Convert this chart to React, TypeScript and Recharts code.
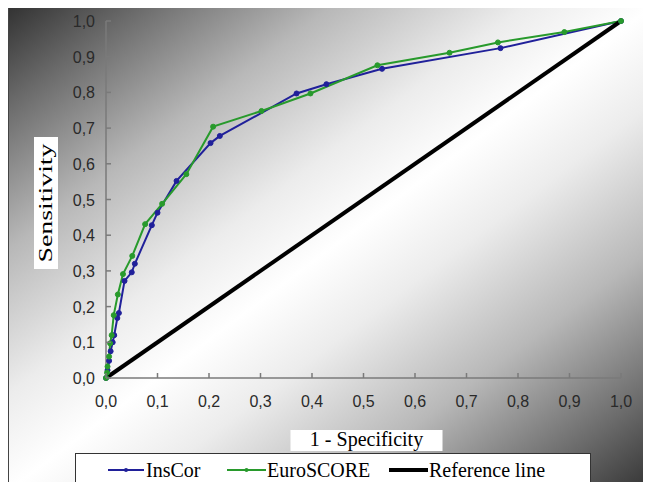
import React from 'react';
import { LineChart, Line, XAxis, YAxis, Label } from 'recharts';

// ROC points (x = 1 - specificity, y = sensitivity)
const insCorX = [0, 0.003, 0.006, 0.009, 0.013, 0.016, 0.022, 0.025, 0.036, 0.05, 0.056, 0.089, 0.1, 0.137, 0.203, 0.221, 0.37, 0.428, 0.536, 0.766, 1];
const insCorY = [0, 0.022, 0.048, 0.075, 0.1, 0.12, 0.168, 0.182, 0.272, 0.296, 0.32, 0.428, 0.463, 0.552, 0.658, 0.678, 0.797, 0.823, 0.866, 0.924, 1];

const euroX = [0, 0.002, 0.003, 0.006, 0.008, 0.011, 0.015, 0.023, 0.033, 0.051, 0.076, 0.109, 0.156, 0.208, 0.302, 0.397, 0.527, 0.667, 0.761, 0.89, 1];
const euroY = [0, 0.015, 0.032, 0.06, 0.097, 0.12, 0.176, 0.234, 0.291, 0.342, 0.431, 0.488, 0.571, 0.704, 0.748, 0.797, 0.876, 0.911, 0.94, 0.969, 1];

const refX = [0, 1];
const refY = [0, 1];

const ticks = [0, 0.1, 0.2, 0.3, 0.4, 0.5, 0.6, 0.7, 0.8, 0.9, 1];

const BLUE = '#20209a';
const GREEN = '#289a2c';
const SERIF = "'Liberation Serif', 'Times New Roman', serif";
const SANS = "'Liberation Sans', Arial, sans-serif";

const toPoints = (xs: number[], ys: number[]) => xs.map((x, i) => ({ x, y: ys[i] }));

const insCor = toPoints(insCorX, insCorY);
const euro = toPoints(euroX, euroY);
const reference = toPoints(refX, refY);

const fmt = (v: number) => v.toFixed(1).replace('.', ',');

const XTick = (props: any) => {
  const { x, y, payload } = props;
  return (
    <g>
      <line x1={x} y1={y} x2={x} y2={y - 5} stroke="#7a7a7a" strokeWidth={1.5} />
      <text x={x} y={y + 29} textAnchor="middle" fontSize={16} fontFamily={SANS} fill="#2a2a2a">
        {fmt(payload.value)}
      </text>
    </g>
  );
};

const YTick = (props: any) => {
  const { x, y, payload } = props;
  return (
    <g>
      <line x1={x} y1={y} x2={x + 5} y2={y} stroke="#7a7a7a" strokeWidth={1.5} />
      <text x={x - 11} y={y + 6} textAnchor="end" fontSize={16} fontFamily={SANS} fill="#2a2a2a">
        {fmt(payload.value)}
      </text>
    </g>
  );
};

const XTitle = (props: any) => {
  const { viewBox } = props;
  const cx = viewBox.x + viewBox.width / 2 + 3;
  return (
    <g>
      <rect x={cx - 76} y={422} width={152} height={21} fill="#ffffff" />
      <text x={cx} y={438} textAnchor="middle" fontSize={20} fontFamily={SERIF} fill="#000">
        1 - Specificity
      </text>
    </g>
  );
};

const YTitle = (props: any) => {
  const { viewBox } = props;
  const cy = viewBox.y + viewBox.height / 2 + 3.5;
  return (
    <g>
      <rect x={viewBox.x} y={cy - 66} width={24} height={132} fill="#ffffff" />
      <text
        transform={`translate(${viewBox.x + 18},${cy}) rotate(-90)`}
        textAnchor="middle"
        fontSize={19}
        fontFamily={SERIF}
        textLength={119}
        lengthAdjust="spacingAndGlyphs"
        fill="#000"
      >
        Sensitivity
      </text>
    </g>
  );
};

// legend samples: left edge, sample length, text start (inside the legend box)
const legendItems = [
  { name: 'InsCor', color: BLUE, width: 2, dot: true, left: 32, len: 36, text: 70 },
  { name: 'EuroSCORE', color: GREEN, width: 2, dot: true, left: 151, len: 39, text: 191 },
  { name: 'Reference line', color: '#000', width: 4, dot: false, left: 313, len: 39, text: 353 },
];

const BG =
  'linear-gradient(to bottom right, #333333 0%, #6a6a6a 10%, #b8b8b8 25%, #ececec 40%, #ffffff 50%, #ececec 60%, #b8b8b8 75%, #6a6a6a 90%, #333333 100%)';

export default function App() {
  return (
    <div style={{ width: 643, height: 474 }}>
      <div
        style={{
          position: 'relative',
          width: 643,
          height: 482,
          overflow: 'hidden',
          boxSizing: 'border-box',
          borderLeft: '1px solid #444',
          background: BG,
        }}
      >
        <LineChart width={643} height={482} margin={{ top: 13, right: 31, bottom: 82, left: 25 }}>
          <XAxis
            type="number"
            dataKey="x"
            domain={[0, 1]}
            ticks={ticks}
            interval={0}
            height={30}
            tickLine={false}
            tickSize={0}
            tickMargin={0}
            tick={<XTick />}
            axisLine={{ stroke: '#7a7a7a', strokeWidth: 1.5 }}
          >
            <Label content={<XTitle />} />
          </XAxis>
          <YAxis
            type="number"
            dataKey="y"
            domain={[0, 1]}
            ticks={ticks}
            interval={0}
            width={72}
            tickLine={false}
            tickSize={0}
            tickMargin={0}
            tick={<YTick />}
            axisLine={{ stroke: '#7a7a7a', strokeWidth: 1.5 }}
          >
            <Label content={<YTitle />} />
          </YAxis>
          <Line
            data={insCor}
            dataKey="y"
            stroke={BLUE}
            strokeWidth={2}
            dot={{ r: 2.5, fill: BLUE, stroke: BLUE, strokeWidth: 1 }}
            isAnimationActive={false}
          />
          <Line
            data={euro}
            dataKey="y"
            stroke={GREEN}
            strokeWidth={2}
            dot={{ r: 2.5, fill: GREEN, stroke: GREEN, strokeWidth: 1 }}
            isAnimationActive={false}
          />
          <Line
            data={reference}
            dataKey="y"
            stroke="#000"
            strokeWidth={4}
            dot={false}
            isAnimationActive={false}
          />
        </LineChart>

        {/* legend box, cut off by the bottom of the chart area as in the original */}
        <div
          style={{
            position: 'absolute',
            left: 66,
            top: 445,
            width: 516,
            height: 45,
            boxSizing: 'border-box',
            background: '#fff',
            border: '1px solid #333',
            fontFamily: SERIF,
            fontSize: 20,
            lineHeight: '23px',
            color: '#000',
          }}
        >
          {legendItems.map((it) => (
            <React.Fragment key={it.name}>
              <svg width={it.len} height={10} style={{ position: 'absolute', left: it.left, top: 11 }}>
                <line x1={0} y1={5} x2={it.len} y2={5} stroke={it.color} strokeWidth={it.width} />
                {it.dot && <circle cx={it.len / 2} cy={5} r={2} fill={it.color} />}
              </svg>
              <span style={{ position: 'absolute', left: it.text, top: 5, whiteSpace: 'nowrap' }}>{it.name}</span>
            </React.Fragment>
          ))}
        </div>
      </div>
    </div>
  );
}
